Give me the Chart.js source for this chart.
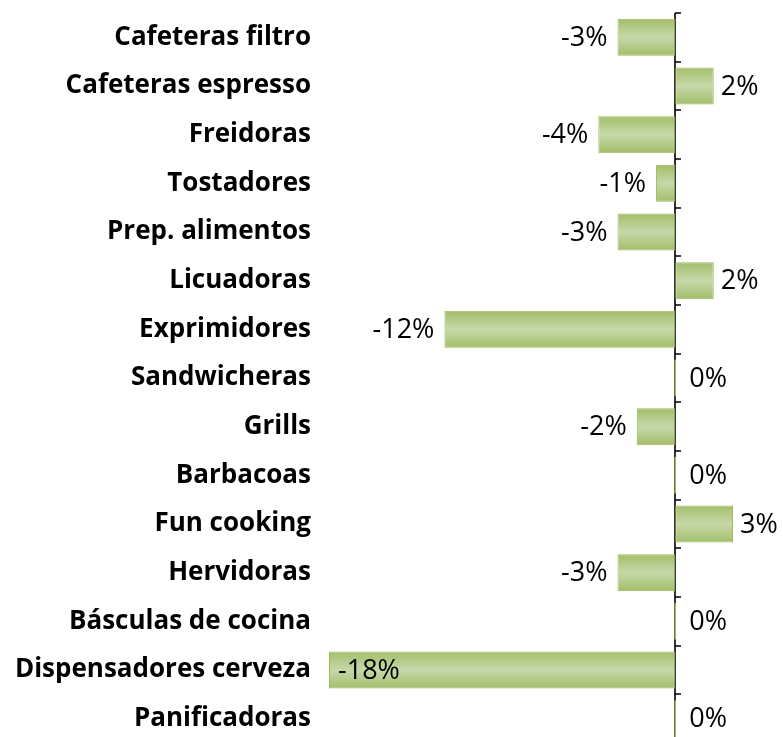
<!DOCTYPE html>
<html>
<head>
<meta charset="utf-8">
<script src="https://cdn.jsdelivr.net/npm/chart.js@4/dist/chart.umd.min.js"></script>
<style>
  html, body { margin: 0; padding: 0; background: #ffffff; overflow: hidden; }
  #wrap { position: relative; width: 783px; height: 743px; }
</style>
</head>
<body>
<div id="wrap"><canvas id="c"></canvas></div>
<script>
const categories = [
  "Cafeteras filtro", "Cafeteras espresso", "Freidoras", "Tostadores",
  "Prep. alimentos", "Licuadoras", "Exprimidores", "Sandwicheras", "Grills",
  "Barbacoas", "Fun cooking", "Hervidoras", "Básculas de cocina",
  "Dispensadores cerveza", "Panificadoras"
];
const changes = [-3, 2, -4, -1, -3, 2, -12, 0, -2, 0, 3, -3, 0, -18, 0];
const changeLabels = ["-3%", "2%", "-4%", "-1%", "-3%", "2%", "-12%", "0%", "-2%", "0%", "3%", "-3%", "0%", "-18%", "0%"];

const BAR_PCT = 0.76;
const LABEL_FONT = '27px "Open Sans", sans-serif';
const CAT_FONT = { family: '"Open Sans", sans-serif', size: 26, weight: 'bold' };

function barGradient(ctx) {
  const chart = ctx.chart;
  const y = chart.scales && chart.scales.y;
  if (!y || !chart.chartArea || ctx.dataIndex === undefined) return '#b3ca8a';
  const c = y.getPixelForValue(ctx.dataIndex);
  const band = Math.abs(y.getPixelForValue(1) - y.getPixelForValue(0));
  const h = band * BAR_PCT / 2;
  const g = chart.ctx.createLinearGradient(0, c - h, 0, c + h);
  g.addColorStop(0, '#a1be6a');
  g.addColorStop(0.5, '#c7d8a9');
  g.addColorStop(1, '#a1be6a');
  return g;
}

const zeroAxisPlugin = {
  id: 'zeroAxis',
  beforeDatasetsDraw(chart) {
    const { ctx, chartArea, scales } = chart;
    const x0 = Math.round(scales.x.getPixelForValue(0));
    ctx.save();
    ctx.strokeStyle = '#000000';
    ctx.lineWidth = 1.6;
    ctx.beginPath();
    ctx.moveTo(x0, chartArea.top);
    ctx.lineTo(x0, chartArea.bottom);
    for (let i = 0; i <= categories.length; i++) {
      const yb = Math.round(scales.y.getPixelForValue(i - 0.5));
      ctx.moveTo(x0, yb);
      ctx.lineTo(x0 + 6, yb);
    }
    ctx.stroke();
    ctx.restore();
  }
};

const valueLabelPlugin = {
  id: 'valueLabels',
  afterDatasetsDraw(chart) {
    const { ctx, chartArea } = chart;
    const meta = chart.getDatasetMeta(0);
    ctx.save();
    ctx.font = LABEL_FONT;
    ctx.fillStyle = '#000000';
    ctx.textBaseline = 'middle';
    meta.data.forEach((bar, i) => {
      const v = changes[i];
      const txt = changeLabels[i];
      const w = ctx.measureText(txt).width;
      const y = bar.y + 1;
      if (v < 0) {
        const left = Math.min(bar.x, bar.base);
        if (left - 10 - w < chartArea.left) {
          ctx.textAlign = 'left';
          ctx.fillText(txt, left + 9, y);
        } else {
          ctx.textAlign = 'right';
          ctx.fillText(txt, left - 10, y);
        }
      } else if (v > 0) {
        ctx.textAlign = 'left';
        ctx.fillText(txt, Math.max(bar.x, bar.base) + 7, y);
      } else {
        ctx.textAlign = 'left';
        ctx.fillText(txt, bar.base + 13, y);
      }
    });
    ctx.restore();
  }
};

new Chart(document.getElementById('c'), {
  type: 'bar',
  data: {
    labels: categories,
    datasets: [{
      data: changes,
      backgroundColor: barGradient,
      borderColor: '#9bbb59',
      borderWidth: 1,
      borderSkipped: false,
      minBarLength: 2,
      barPercentage: BAR_PCT,
      categoryPercentage: 1
    }]
  },
  options: {
    indexAxis: 'y',
    responsive: true,
    maintainAspectRatio: false,
    animation: false,
    layout: { padding: { top: 13, right: 0, bottom: 0, left: 0 } },
    plugins: { legend: { display: false }, tooltip: { enabled: false } },
    scales: {
      x: {
        display: false,
        min: -18,
        max: 5.6
      },
      y: {
        grid: { display: false, drawTicks: false },
        border: { display: false },
        ticks: {
          color: '#000000',
          font: CAT_FONT,
          padding: 18,
          autoSkip: false
        },
        afterFit(scale) {
          scale.width = 329;
          scale.paddingTop = 0;
          scale.paddingBottom = 0;
        }
      }
    }
  },
  plugins: [zeroAxisPlugin, valueLabelPlugin]
});
</script>
</body>
</html>
